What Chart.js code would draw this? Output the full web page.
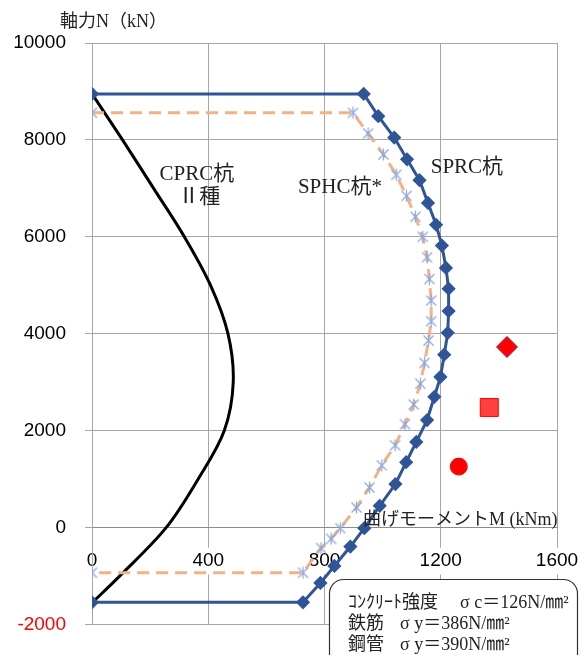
<!DOCTYPE html>
<html lang="ja">
<head>
<meta charset="utf-8">
<title>軸力-曲げモーメント</title>
<script src="https://cdn.jsdelivr.net/npm/chart.js@4.4.0/dist/chart.umd.min.js"></script>
<style>
  html, body { margin: 0; padding: 0; background: #fff; }
  canvas { display: block; }
</style>
</head>
<body>
<canvas id="chart" width="579" height="655"></canvas>
<script>
// SPRC杭 : M (kNm) / N (kN)
const sprcM = [0, 935, 985, 1040, 1084, 1127, 1156, 1184, 1204, 1218, 1227, 1227, 1224, 1212, 1199, 1178, 1153, 1116, 1081, 1044, 990, 937, 889, 834, 786, 726, 0];
const sprcN = [8950, 8950, 8490, 8050, 7600, 7170, 6700, 6250, 5820, 5360, 4930, 4470, 4020, 3570, 3110, 2700, 2220, 1770, 1350, 900, 450, -10, -390, -790, -1140, -1540, -1540];

// SPHC杭*
const sphcM = [0, 898, 950, 1003, 1047, 1082, 1113, 1138, 1153, 1161, 1167, 1167, 1158, 1144, 1130, 1107, 1077, 1043, 997, 955, 910, 854, 823, 788, 726, 0];
const sphcN = [8560, 8560, 8135, 7700, 7280, 6845, 6415, 6000, 5580, 5130, 4685, 4260, 3860, 3400, 2970, 2540, 2135, 1700, 1285, 830, 415, -10, -230, -420, -930, -930];

// CPRC杭 II種
const cprcM = [0, 105, 212, 318, 408, 468, 486, 455, 365, 255, 95, 0];
const cprcN = [8950, 8000, 7000, 6000, 5000, 4000, 3000, 2000, 1000, 0, -1000, -1550];

// 実験値
const testM = [1262, 1367, 1428];
const testN = [1260, 2480, 3730];

const xLabels = [0, 400, 800, 1200, 1600];
const yLabels = [-2000, 0, 2000, 4000, 6000, 8000, 10000];

const pts = (xs, ys) => xs.map((x, i) => ({ x: x, y: ys[i] }));

const serif = '"Liberation Serif", "Noto Sans CJK JP", serif';

// asterisk marker like the spreadsheet one
function starMarker(size, color) {
  const c = document.createElement('canvas');
  c.width = size; c.height = size;
  const g = c.getContext('2d');
  const m = 1.5, s = size - 1.5;
  g.strokeStyle = color;
  g.lineWidth = 1.3;
  g.beginPath();
  g.moveTo(m, m); g.lineTo(s, s);
  g.moveTo(s, m); g.lineTo(m, s);
  g.moveTo(size / 2, 0.5); g.lineTo(size / 2, size - 0.5);
  g.stroke();
  return c;
}

// text drawn on top of the plot
const notes = [
  { text: 'CPRC杭', m: 361, n: 7290 },
  { text: 'Ⅱ種', m: 369, n: 6820 },
  { text: 'SPHC杭*', m: 853, n: 7025 },
  { text: 'SPRC杭', m: 1290, n: 7435 }
];

const overlay = {
  id: 'overlay',
  afterDraw(chart) {
    const ctx = chart.ctx;
    const xs = chart.scales.x, ys = chart.scales.y;
    ctx.save();
    ctx.fillStyle = '#222';
    ctx.textBaseline = 'middle';

    ctx.font = '21px ' + serif;
    ctx.textAlign = 'center';
    notes.forEach(n => {
      ctx.fillText(n.text, xs.getPixelForValue(n.m), ys.getPixelForValue(n.n));
    });

    // axis titles
    ctx.font = '18px ' + serif;
    ctx.textAlign = 'left';
    ctx.fillText('軸力N（kN）', 60, 22);
    ctx.fillText('曲げモーメントM (kNm)', 363, 520);

    // material box
    const x0 = 329.5, y0 = 579.5, x1 = 577.5, y1 = 680, r = 14;
    ctx.beginPath();
    ctx.moveTo(x0 + r, y0);
    ctx.lineTo(x1 - r, y0);
    ctx.arcTo(x1, y0, x1, y0 + r, r);
    ctx.lineTo(x1, y1);
    ctx.lineTo(x0, y1);
    ctx.lineTo(x0, y0 + r);
    ctx.arcTo(x0, y0, x0 + r, y0, r);
    ctx.closePath();
    ctx.fillStyle = '#fff';
    ctx.fill();
    ctx.strokeStyle = '#333';
    ctx.lineWidth = 1.2;
    ctx.stroke();

    ctx.fillStyle = '#222';
    ctx.font = '18px ' + serif;
    ctx.fillText('ｺﾝｸﾘｰﾄ強度', 348, 603);
    ctx.fillText('σ c＝126N/㎜²', 460, 603);
    ctx.fillText('鉄筋', 348, 624);
    ctx.fillText('σ y＝386N/㎜²', 400, 624);
    ctx.fillText('鋼管', 348, 645);
    ctx.fillText('σ y＝390N/㎜²', 400, 645);
    ctx.restore();
  }
};

new Chart(document.getElementById('chart'), {
  type: 'scatter',
  data: {
    datasets: [
      {
        label: '実験値',
        data: pts(testM, testN),
        pointStyle: ['circle', 'rect', 'rectRot'],
        pointRadius: [8.5, 12.7, 11],
        backgroundColor: ['#ff0000', 'rgba(255,30,30,0.85)', '#ff0000'],
        borderColor: ['#ff0000', '#ff0000', '#7f9fd8'],
        borderWidth: 1,
        showLine: false
      },
      {
        label: 'SPRC杭',
        data: pts(sprcM, sprcN),
        showLine: true,
        borderColor: '#2f5597',
        borderWidth: 3,
        pointStyle: 'rectRot',
        pointRadius: 5,
        pointBackgroundColor: '#2f5597',
        pointBorderColor: '#2f5597',
        tension: 0
      },
      {
        label: 'SPHC杭*',
        data: pts(sphcM, sphcN),
        showLine: true,
        borderColor: '#f4b183',
        borderWidth: 3,
        borderDash: [12, 7],
        pointStyle: starMarker(13, '#8fa9dc'),
        pointRadius: 6,
        tension: 0
      },
      {
        label: 'CPRC杭 Ⅱ種',
        data: pts(cprcM, cprcN),
        showLine: true,
        borderColor: '#000',
        borderWidth: 3,
        pointRadius: 0,
        tension: 0.35
      }
    ]
  },
  options: {
    responsive: false,
    animation: false,
    layout: { padding: { left: 0, right: 22, top: 43, bottom: 28 } },
    plugins: {
      legend: { display: false },
      tooltip: { enabled: false }
    },
    scales: {
      x: {
        type: 'linear',
        position: { y: 0 },
        min: 0,
        max: 1600,
        afterFit: (s) => { s.paddingLeft = 0; s.paddingRight = 0; },
        grid: {
          drawTicks: false,
          color: (c) => (c.tick && c.tick.value % 400 === 0) ? '#a6a6a6' : '#d9d9d9'
        },
        border: { color: '#8c8c8c' },
        ticks: {
          stepSize: 200,
          padding: 22,
          color: '#000',
          font: { family: '"Liberation Sans", Arial, sans-serif', size: 19 },
          showLabelBackdrop: true,
          backdropColor: '#fff',
          backdropPadding: 2,
          maxRotation: 0,
          autoSkip: false,
          callback: (v) => xLabels.includes(v) ? String(v) : null
        }
      },
      y: {
        type: 'linear',
        min: -2000,
        max: 10000,
        afterFit: (s) => { s.width = 92; },
        grid: {
          tickLength: 7,
          color: (c) => (c.tick && c.tick.value % 2000 === 0) ? '#a6a6a6' : '#d9d9d9',
          tickColor: (c) => (c.tick && c.tick.value % 2000 === 0) ? '#a6a6a6' : 'rgba(0,0,0,0)'
        },
        border: { color: '#a6a6a6' },
        ticks: {
          stepSize: 1000,
          padding: 19,
          autoSkip: false,
          font: { family: '"Liberation Sans", Arial, sans-serif', size: 19 },
          color: (c) => c.tick.value === -2000 ? '#ff0000' : '#000',
          callback: (v) => yLabels.includes(v) ? String(v) : null
        }
      }
    }
  },
  plugins: [overlay]
});
</script>
</body>
</html>
